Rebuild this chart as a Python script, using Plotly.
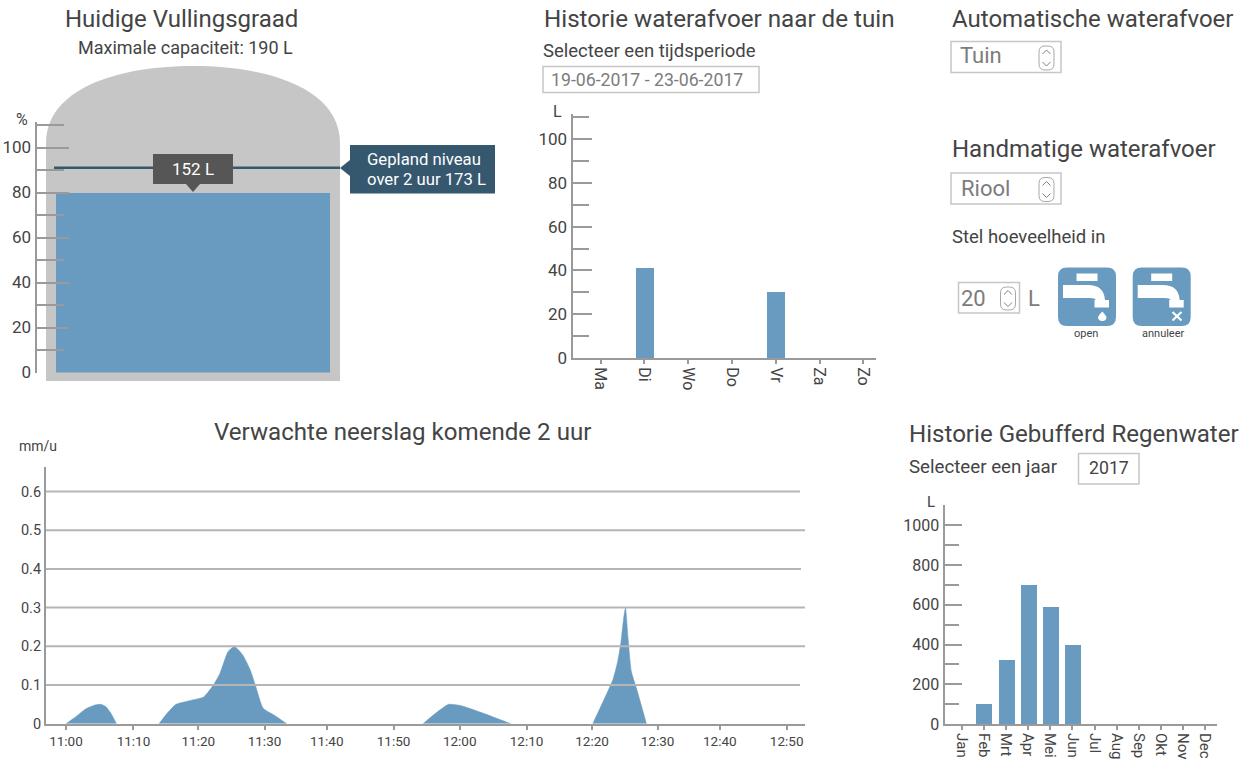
import plotly.graph_objects as go

W, H = 1247, 761
BLUE = "#689bbf"
NAVY = "#36586f"
AXIS = "#9a9a9a"
GRID = "#b5b5b5"
TEXT = "#444444"
SOFT = "#7c7c7c"
BOX = "#c6c6c6"
FONT = "Roboto"

# Tank fill level (litres)
capacity_l = 190
current_l = 152
planned_l = 173
tank_ticks = [0, 20, 40, 60, 80, 100]

# Garden drain-off per weekday (litres)
weekdays = ["Ma", "Di", "Wo", "Do", "Vr", "Za", "Zo"]
drain_l = [0, 41, 0, 0, 30, 0, 0]
drain_ticks = [0, 20, 40, 60, 80, 100]

# Buffered rainwater per month (litres)
months = ["Jan", "Feb", "Mrt", "Apr", "Mei", "Jun", "Jul", "Aug", "Sep", "Okt", "Nov", "Dec"]
buffered_l = [0, 100, 320, 700, 590, 400, 0, 0, 0, 0, 0, 0]
buffered_ticks = [0, 200, 400, 600, 800, 1000]

# Rain forecast: minutes after 11:00 and rate in mm/h; None separates the dry spells
rain_minutes = [0, 1.5, 3, 4.4, 5.3, 6.1, 6.9, 7.7, None,
                14.2, 15.5, 16.8, 19, 21, 22.5, 23.5, 24.7, 25.7, 27, 28.1, 28.9, 30.1, 31.8, 33.7, None,
                54.5, 56.5, 58.4, 60.2, 63.2, 67.9, None,
                80.4, 82, 83.5, 84.2, 84.7, 85.1, 85.4, 85.8, 86.3, 87.1, 88.6]
rain_rate = [0, 0.018, 0.038, 0.048, 0.05, 0.044, 0.026, 0, None,
             0, 0.028, 0.05, 0.06, 0.069, 0.1, 0.13, 0.185, 0.2, 0.177, 0.14, 0.1, 0.04, 0.022, 0, None,
             0, 0.028, 0.05, 0.047, 0.03, 0, None,
             0, 0.058, 0.115, 0.16, 0.21, 0.27, 0.3, 0.22, 0.135, 0.09, 0]
clock_ticks = [0, 10.3, 20.2, 30.3, 39.8, 50, 60.1, 70.3, 80.3, 90.3, 99.8, 110]
clock_labels = ["11:00", "11:10", "11:20", "11:30", "11:40", "11:50",
                "12:00", "12:10", "12:20", "12:30", "12:40", "12:50"]
rain_ticks = [0, 0.1, 0.2, 0.3, 0.4, 0.5, 0.6]
grid_right_px = [800, 800, 805, 805, 801, 805, 800]


def px(x):
    return x / W


def py(y):
    return 1 - y / H


def path(*parts):
    """Build an SVG path from (command, x, y, ...) tuples given in page pixels."""
    out = []
    for part in parts:
        cmd, *nums = part
        pts = [f"{px(nums[i]):.5f},{py(nums[i + 1]):.5f}" for i in range(0, len(nums), 2)]
        out.append(cmd + " ".join(pts))
    return " ".join(out)


def rounded(x0, y0, x1, y1, r):
    return path(("M", x0 + r, y0), ("L", x1 - r, y0), ("Q", x1, y0, x1, y0 + r),
                ("L", x1, y1 - r), ("Q", x1, y1, x1 - r, y1), ("L", x0 + r, y1),
                ("Q", x0, y1, x0, y1 - r), ("L", x0, y0 + r), ("Q", x0, y0, x0 + r, y0)) + " Z"


shapes = []


def add_path(d, fill=None, line=None, width=0, layer="above"):
    shapes.append(dict(type="path", path=d, xref="paper", yref="paper", layer=layer,
                       fillcolor=fill or "rgba(0,0,0,0)",
                       line=dict(color=line or "rgba(0,0,0,0)", width=width)))


def add_rect(x0, y0, x1, y1, fill=None, line=None, width=0):
    shapes.append(dict(type="rect", xref="paper", yref="paper", x0=px(x0), x1=px(x1), y0=py(y0), y1=py(y1),
                       fillcolor=fill or "rgba(0,0,0,0)",
                       line=dict(color=line or "rgba(0,0,0,0)", width=width)))


def add_stepper(x0, y0, x1, y1):
    cx = (x0 + x1) / 2
    cy = (y0 + y1) / 2
    add_path(rounded(x0, y0, x1, y1, 6), line="#a8a8a8", width=1)
    add_path(path(("M", cx - 4, cy - 4), ("L", cx, cy - 8), ("L", cx + 4, cy - 4)), line="#808080", width=1)
    add_path(path(("M", cx - 4, cy + 4), ("L", cx, cy + 8), ("L", cx + 4, cy + 4)), line="#808080", width=1)


def add_tap(dx):
    add_path(rounded(1058 + dx, 267.5, 1116 + dx, 326, 9), fill=BLUE)
    add_rect(1076.5 + dx, 273.5, 1097.5 + dx, 281, fill="white")
    add_path(path(("M", 1063 + dx, 285), ("L", 1088 + dx, 285), ("Q", 1104 + dx, 285, 1105 + dx, 300),
                  ("L", 1109 + dx, 300), ("L", 1109 + dx, 307.5), ("L", 1094.5 + dx, 307.5),
                  ("L", 1094.5 + dx, 300), ("L", 1096 + dx, 300), ("Q", 1095 + dx, 298, 1090 + dx, 298),
                  ("L", 1063 + dx, 298)) + " Z", fill="white")


annotations = []


def label(x, y, s, size, color=TEXT, anchor="left", angle=0):
    annotations.append(dict(xref="paper", yref="paper", x=px(x), y=py(y), text=s, showarrow=False,
                            xanchor=anchor, yanchor="middle", borderpad=0, textangle=angle,
                            font=dict(family=FONT, size=size, color=color)))


def axis_base(**kw):
    base = dict(showgrid=False, zeroline=False, showline=True, linecolor=AXIS, linewidth=2, automargin=False,
                tickcolor=AXIS, tickwidth=2, tickfont=dict(family=FONT, size=17, color=TEXT))
    base.update(kw)
    return base


fig = go.Figure()

# Tank gauge
level_pct = current_l / capacity_l * 100
planned_pct = planned_l / capacity_l * 100
tank_left, tank_right, bar_left, bar_right = 36.5, 340, 55, 329
bar_w = bar_right - bar_left
bar_mid = (bar_left + bar_right) / 2
fig.add_trace(go.Bar(x=[0], y=[level_pct], width=[1], marker=dict(color=BLUE, line_width=0),
                     xaxis="x", yaxis="y", hoverinfo="y"))
fig.add_trace(go.Scatter(x=[(54 - bar_mid) / bar_w, (350 - bar_mid) / bar_w], y=[planned_pct, planned_pct],
                         mode="lines", line=dict(color=NAVY, width=2.5), xaxis="x", yaxis="y", hoverinfo="y"))

add_path(path(("M", 46, 381), ("L", 46, 143), ("C", 46, 90, 115, 66, 193, 66),
              ("C", 271, 66, 340, 90, 340, 143), ("L", 340, 381)) + " Z", fill="#c6c6c6", layer="below")

# Daily drain-off bars
fig.add_trace(go.Bar(x=weekdays, y=drain_l, width=0.41, marker=dict(color=BLUE, line_width=0),
                     xaxis="x2", yaxis="y2"))

# Rain forecast area
fig.add_trace(go.Scatter(x=rain_minutes, y=rain_rate, mode="lines", fill="tozeroy", fillcolor=BLUE,
                         connectgaps=False,
                         line=dict(color=BLUE, width=0.5, shape="spline", smoothing=0.5),
                         xaxis="x3", yaxis="y3"))

# Monthly buffered rainwater bars
fig.add_trace(go.Bar(x=months, y=buffered_l, width=0.72, marker=dict(color=BLUE, line_width=0),
                     xaxis="x4", yaxis="y4"))

# Forecast grid lines sit in front of the area
for value, right in zip(rain_ticks[1:], grid_right_px[1:]):
    shapes.append(dict(type="line", xref="x3 domain", yref="y3", x0=0, x1=(right - 46) / (805 - 46),
                       y0=value, y1=value, line=dict(color=GRID, width=2), layer="above"))

# Callouts on the tank
add_rect(153, 154, 233, 184, fill="#565656")
add_path(path(("M", 186, 184), ("L", 200, 184), ("L", 193, 192)) + " Z", fill="#565656")
add_rect(350, 145, 495, 193.5, fill=NAVY)
add_path(path(("M", 350, 160), ("L", 350, 176), ("L", 340, 168)) + " Z", fill=NAVY)
label(193, 169, f"{current_l} L", 17, "white", "center")
label(366, 159, "Gepland niveau", 16.7, "white")
label(366, 179, f"over 2 uur {planned_l} L", 16.7, "white")

# Controls
add_rect(543, 66.5, 759, 92.5, line=BOX, width=1.5)
add_rect(951, 41.5, 1061, 72.5, line=BOX, width=1.5)
add_rect(951, 173, 1061, 204, line=BOX, width=1.5)
add_rect(958.5, 282.5, 1019.5, 313, line=BOX, width=1.5)
add_rect(1078.5, 453.5, 1139, 484, line=BOX, width=1.5)
add_stepper(1039, 46, 1054, 70)
add_stepper(1039, 177.5, 1054, 201.5)
add_stepper(1000.5, 287, 1015.5, 310)
add_tap(0)
add_tap(74.7)
add_path(path(("M", 1102.3, 311.5), ("Q", 1106.5, 316, 1106.5, 317.5), ("Q", 1106, 321, 1102.3, 321),
              ("Q", 1098.5, 321, 1098, 317.5), ("Q", 1098, 316, 1102.3, 311.5)) + " Z", fill="white")
add_path(path(("M", 1172.5, 312), ("L", 1181.5, 320.5)), line="white", width=2.2)
add_path(path(("M", 1181.5, 312), ("L", 1172.5, 320.5)), line="white", width=2.2)

# Headings and form text
label(64, 19, "Huidige Vullingsgraad", 24)
label(185, 48, f"Maximale capaciteit: {capacity_l} L", 18, anchor="center")
label(15, 119, "%", 16)
label(543, 19, "Historie waterafvoer naar de tuin", 24.2)
label(542, 51, "Selecteer een tijdsperiode", 18.5)
label(550, 79.5, "19-06-2017 - 23-06-2017", 17.7, SOFT)
label(552, 111, "L", 16)
label(951, 19, "Automatische waterafvoer", 24)
label(959, 56, "Tuin", 22, SOFT)
label(951, 149, "Handmatige waterafvoer", 24)
label(960, 188, "Riool", 22, SOFT)
label(951, 237, "Stel hoeveelheid in", 18.5)
label(960, 298, "20", 22, SOFT)
label(1027, 298, "L", 22, SOFT)
label(1086, 333.5, "open", 11, anchor="center")
label(1163, 333, "annuleer", 11, anchor="center")
label(213, 432, "Verwachte neerslag komende 2 uur", 24.1)
label(18, 446, "mm/u", 14)
label(908, 434, "Historie Gebufferd Regenwater", 24.1)
label(908, 467, "Selecteer een jaar", 18.7)
label(1108.5, 468, "2017", 17.7, anchor="center")
label(926, 502, "L", 15)

layout = dict(
    width=W, height=H, autosize=False, showlegend=False,
    margin=dict(l=0, r=0, t=0, b=0), paper_bgcolor="white", plot_bgcolor="rgba(0,0,0,0)",
    bargap=0, shapes=shapes, annotations=annotations, font=dict(family=FONT, color=TEXT),
    # Tank gauge axes
    xaxis=dict(domain=[px(tank_left), px(tank_right)], visible=False, automargin=False,
               range=[(tank_left - bar_mid) / bar_w, (tank_right - bar_mid) / bar_w]),
    yaxis=axis_base(domain=[py(372.5), py(122)], anchor="x", range=[0, 250.5 / 2.25],
                    tickvals=tank_ticks, ticks="inside", ticklen=32,
                    minor=dict(dtick=10, ticks="inside", ticklen=27, tickcolor=AXIS, tickwidth=2)),
    # Weekday axes
    xaxis2=axis_base(domain=[px(572.5), px(876)], anchor="y2", type="category",
                     categoryarray=weekdays, range=[-0.64, 6.29], ticks="outside", ticklen=4, tickangle=90,
                     tickfont=dict(family=FONT, size=16, color=TEXT)),
    yaxis2=axis_base(domain=[py(358), py(114)], anchor="x2", range=[0, 244 / 2.19],
                     tickvals=drain_ticks, ticks="inside", ticklen=19,
                     minor=dict(dtick=10, ticks="inside", ticklen=16, tickcolor=AXIS, tickwidth=2)),
    # Forecast axes
    xaxis3=axis_base(domain=[px(46), px(805)], anchor="y3", range=[-3.05, 112.8],
                     tickvals=clock_ticks, ticktext=clock_labels, ticks="outside", ticklen=4,
                     tickfont=dict(family=FONT, size=13.5, color=TEXT)),
    yaxis3=axis_base(domain=[py(723.7), py(467)], anchor="x3", range=[0, 256.7 / 387],
                     tickvals=rain_ticks, ticktext=["0", "0.1", "0.2", "0.3", "0.4", "0.5", "0.6"],
                     ticks="", tickfont=dict(family=FONT, size=14.5, color=TEXT)),
    # Monthly axes
    xaxis4=axis_base(domain=[px(944.5), px(1217)], anchor="y4", type="category",
                     categoryarray=months, range=[-0.78, 11.53], ticks="outside", ticklen=4, tickangle=90,
                     tickfont=dict(family=FONT, size=15, color=TEXT)),
    yaxis4=axis_base(domain=[py(724), py(505)], anchor="x4", range=[0, 219 / 0.1987],
                     tickvals=buffered_ticks, ticks="inside", ticklen=17,
                     minor=dict(dtick=100, ticks="inside", ticklen=14, tickcolor=AXIS, tickwidth=2),
                     tickfont=dict(family=FONT, size=16, color=TEXT)),
)
fig.update_layout(**layout)

fig.write_html("out.html", config=dict(displayModeBar=False))
